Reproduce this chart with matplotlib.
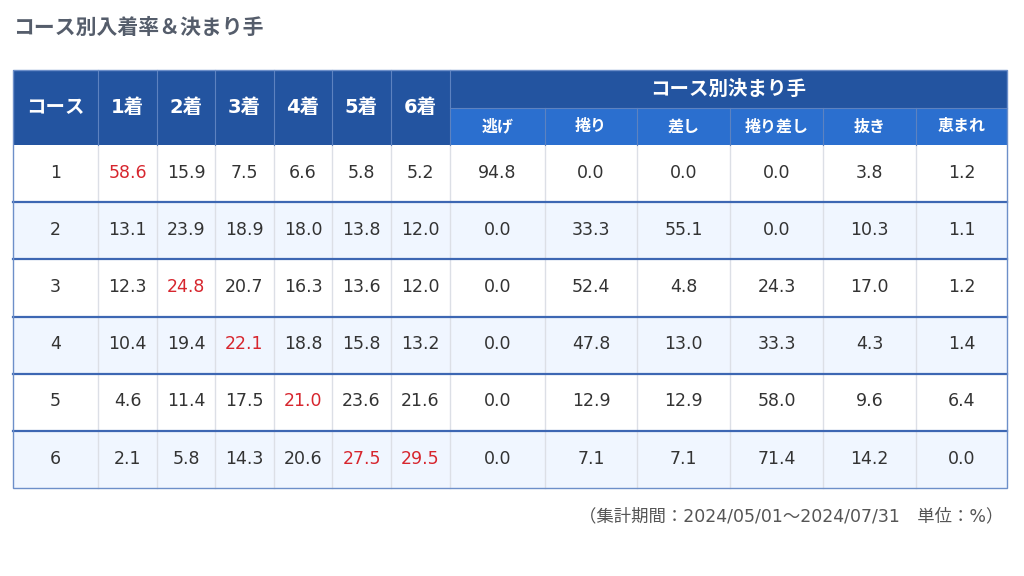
import matplotlib
matplotlib.use("Agg")
import matplotlib.pyplot as plt
from matplotlib.patches import Rectangle

JP = ['Noto Sans CJK JP', 'DejaVu Sans']
NUM = ['DejaVu Sans', 'Noto Sans CJK JP']

# data
title = "コース別入着率＆決まり手"
courses = ["1", "2", "3", "4", "5", "6"]
rank_labels = ["1着", "2着", "3着", "4着", "5着", "6着"]
kimarite_group = "コース別決まり手"
kimarite_labels = ["逃げ", "捲り", "差し", "捲り差し", "抜き", "恵まれ"]
rank_rates = [
    [58.6, 15.9, 7.5, 6.6, 5.8, 5.2],
    [13.1, 23.9, 18.9, 18.0, 13.8, 12.0],
    [12.3, 24.8, 20.7, 16.3, 13.6, 12.0],
    [10.4, 19.4, 22.1, 18.8, 15.8, 13.2],
    [4.6, 11.4, 17.5, 21.0, 23.6, 21.6],
    [2.1, 5.8, 14.3, 20.6, 27.5, 29.5],
]
kimarite_rates = [
    [94.8, 0.0, 0.0, 0.0, 3.8, 1.2],
    [0.0, 33.3, 55.1, 0.0, 10.3, 1.1],
    [0.0, 52.4, 4.8, 24.3, 17.0, 1.2],
    [0.0, 47.8, 13.0, 33.3, 4.3, 1.4],
    [0.0, 12.9, 12.9, 58.0, 9.6, 6.4],
    [0.0, 7.1, 7.1, 71.4, 14.2, 0.0],
]
# (row, rank column) cells shown in red
highlight = [(0, 0), (2, 1), (3, 2), (4, 3), (5, 4), (5, 5)]
footer = "（集計期間：2024/05/01～2024/07/31　単位：%）"

# layout (pixels)
col_w = [85, 59, 58, 59, 58, 59, 59, 95, 92, 93, 93, 93, 91]
left, top = 13, 70
head_h, sub_h = 38, 37
row_h = 57.2

dark = "#2354a0"
sub = "#2b6fcf"
alt = "#f0f6ff"
row_line = "#3d67b3"
grid = "#dcdfe6"
txt = "#333333"
red = "#d7262e"

fig = plt.figure(figsize=(10.24, 5.76), dpi=100)
ax = fig.add_axes([0, 0, 1, 1])
ax.set_xlim(0, 1024)
ax.set_ylim(576, 0)
ax.axis('off')

xs = [left]
for w in col_w:
    xs.append(xs[-1] + w)
right = xs[-1]
body_top = top + head_h + sub_h

ax.text(left, 27, title, fontsize=15, fontweight='bold', color="#555d6b",
        family=JP, va='center', ha='left')

# header
ax.add_patch(Rectangle((left, top), right - left, head_h + sub_h, color=dark, lw=0))
ax.add_patch(Rectangle((xs[7], top + head_h), right - xs[7], sub_h, color=sub, lw=0))
hdr = ["コース"] + rank_labels
for i, lab in enumerate(hdr):
    ax.text((xs[i] + xs[i + 1]) / 2, top + (head_h + sub_h) / 2, lab, color='white',
            fontsize=14, fontweight='bold', family=NUM if i else JP,
            ha='center', va='center')
ax.text((xs[7] + right) / 2, top + head_h / 2, kimarite_group, color='white',
        fontsize=14, fontweight='bold', family=JP, ha='center', va='center')
for j, lab in enumerate(kimarite_labels):
    ax.text((xs[7 + j] + xs[8 + j]) / 2, top + head_h + sub_h / 2, lab, color='white',
            fontsize=11.5, fontweight='bold', family=JP, ha='center', va='center')
for i in range(1, 13):
    y0 = top if i <= 7 else top + head_h
    ax.plot([xs[i], xs[i]], [y0, body_top], color="#5d82c0", lw=0.8)
ax.plot([xs[7], right], [top + head_h, top + head_h], color="#5d82c0", lw=0.8)

# body
for r, c in enumerate(courses):
    y = body_top + r * row_h
    ax.add_patch(Rectangle((left, y), right - left, row_h,
                           color='white' if r % 2 == 0 else alt, lw=0))
    values = [c] + [f"{v:.1f}" for v in rank_rates[r]] + [f"{v:.1f}" for v in kimarite_rates[r]]
    for k, v in enumerate(values):
        color = red if k >= 1 and (r, k - 1) in highlight else txt
        ax.text((xs[k] + xs[k + 1]) / 2, y + row_h / 2 - 1, v, color=color, fontsize=12.5,
                family=NUM, ha='center', va='center')
bottom = body_top + len(courses) * row_h
for i in range(1, 13):
    ax.plot([xs[i], xs[i]], [body_top, bottom], color=grid, lw=1.0, zorder=1)
for r in range(1, len(courses)):
    y = body_top + r * row_h
    ax.plot([left, right], [y, y], color=row_line, lw=1.6, zorder=2)
ax.add_patch(Rectangle((left, top), right - left, bottom - top, fill=False,
                       ec="#6d8fc9", lw=1.0, zorder=3))

ax.text(1003, 516, footer, fontsize=12.5, color="#555555", family=NUM,
        ha='right', va='center')

fig.savefig("out.png", dpi=100)
